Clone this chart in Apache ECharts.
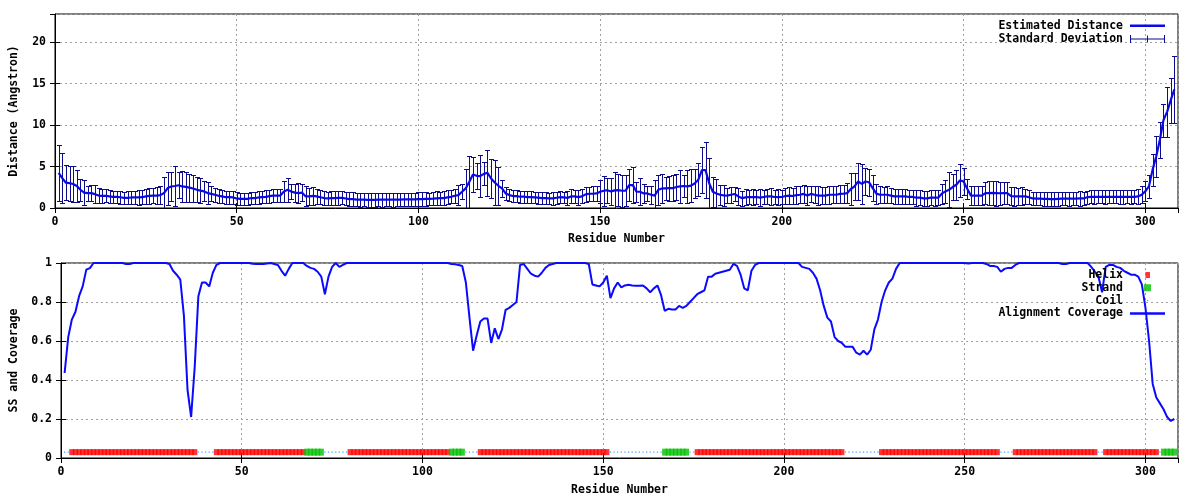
<!DOCTYPE html>
<html>
<head>
<meta charset="utf-8">
<script src="https://cdn.jsdelivr.net/npm/echarts@6/dist/echarts.min.js"></script>
<style>html,body{margin:0;padding:0;background:#fff}#c{width:1200px;height:500px}</style>
</head>
<body>
<div id="c"></div>
<script>
// ---------- DATA (residues numbered from firstResidue) ----------
const firstResidue = 1;
const residueMax = 309;
const distanceMax = 23.4;

const estimatedDistance = [
4.25,3.6,3.05,3.0,2.9,2.65,2.2,1.85,1.8,1.8,
1.67,1.5,1.47,1.47,1.4,1.35,1.35,1.3,1.23,1.23,
1.27,1.27,1.27,1.3,1.4,1.47,1.5,1.5,1.55,1.8,
2.4,2.6,2.65,2.75,2.6,2.55,2.45,2.35,2.2,2.1,
2.0,1.8,1.7,1.6,1.47,1.4,1.3,1.3,1.27,1.15,
1.1,1.1,1.1,1.2,1.2,1.27,1.3,1.35,1.43,1.5,
1.5,1.5,2.0,2.2,2.0,1.85,1.8,1.85,1.4,1.4,
1.47,1.4,1.3,1.2,1.15,1.2,1.2,1.23,1.23,1.15,
1.07,1.07,1.0,1.0,1.0,0.98,0.98,0.98,1.0,1.0,
1.0,1.0,1.0,1.02,1.02,1.05,1.05,1.05,1.05,1.08,
1.08,1.1,1.1,1.12,1.16,1.18,1.2,1.28,1.35,1.48,
1.56,1.96,2.36,3.16,4.04,3.88,3.84,4.12,4.24,3.56,
3.08,2.68,2.36,1.76,1.56,1.44,1.44,1.36,1.36,1.32,
1.32,1.28,1.24,1.2,1.2,1.16,1.16,1.24,1.32,1.28,
1.22,1.4,1.4,1.32,1.4,1.64,1.72,1.72,1.76,1.96,
2.08,2.15,2.0,2.12,2.15,2.08,2.1,2.76,2.76,1.96,
1.96,1.76,1.76,1.6,1.5,2.2,2.36,2.36,2.4,2.4,
2.53,2.6,2.65,2.6,2.7,2.96,3.4,4.56,4.56,3.0,
1.96,1.76,1.6,1.53,1.5,1.6,1.69,1.4,1.2,1.29,
1.33,1.3,1.33,1.25,1.33,1.4,1.4,1.33,1.3,1.33,
1.45,1.5,1.45,1.55,1.6,1.7,1.5,1.7,1.6,1.5,
1.5,1.5,1.6,1.6,1.6,1.7,1.73,1.8,2.29,2.6,
3.2,2.9,3.2,3.1,2.4,1.73,1.6,1.6,1.6,1.5,
1.4,1.4,1.4,1.4,1.33,1.33,1.25,1.25,1.16,1.16,
1.25,1.25,1.25,1.73,2.0,2.2,2.53,2.8,3.33,3.2,
2.33,1.5,1.5,1.5,1.5,1.8,1.8,1.82,1.8,1.78,
1.8,1.8,1.45,1.4,1.4,1.42,1.4,1.3,1.15,1.12,
1.12,1.1,1.1,1.08,1.08,1.1,1.12,1.12,1.12,1.12,
1.12,1.15,1.15,1.3,1.35,1.35,1.35,1.35,1.35,1.35,
1.35,1.35,1.35,1.33,1.35,1.35,1.35,1.4,1.6,2.0,
2.6,4.6,6.2,8.2,10.6,11.6,13.0,14.3
];

const standardDeviation = [
3.4,3.0,2.1,2.1,2.2,1.9,1.3,1.5,0.9,0.95,
1.05,0.86,0.85,0.8,0.8,0.75,0.75,0.8,0.75,0.8,
0.8,0.8,0.85,0.85,0.9,0.95,0.95,1.0,1.1,1.9,
2.0,1.8,2.4,1.6,1.9,1.8,1.7,1.6,1.5,1.5,
1.2,1.3,0.9,0.85,0.85,0.8,0.8,0.8,0.75,0.75,
0.7,0.75,0.75,0.7,0.7,0.75,0.75,0.8,0.8,0.75,
0.75,0.8,1.3,1.45,0.95,1.1,1.2,1.05,1.2,1.0,
1.1,0.95,0.85,0.8,0.8,0.8,0.85,0.85,0.8,0.8,
0.8,0.85,0.8,0.85,0.8,0.8,0.85,0.8,0.8,0.85,
0.8,0.8,0.85,0.8,0.8,0.75,0.8,0.8,0.75,0.8,
0.8,0.8,0.75,0.8,0.85,0.8,0.85,0.85,0.8,0.85,
1.2,0.9,2.4,3.1,2.1,1.6,2.5,1.4,2.8,2.3,
2.7,2.3,1.0,0.8,0.7,0.7,0.75,0.7,0.7,0.7,
0.75,0.7,0.7,0.75,0.7,0.7,0.75,0.7,0.75,0.7,
0.8,0.85,0.8,0.9,0.85,0.9,0.85,0.9,0.9,1.4,
1.8,1.5,1.6,2.2,1.9,1.96,1.9,1.9,2.2,1.2,
1.6,1.1,0.9,1.1,1.9,1.8,1.7,1.4,1.5,1.6,
1.6,2.0,1.3,2.0,2.0,1.8,2.0,2.8,3.4,3.0,
1.8,1.7,1.2,1.3,0.9,0.95,0.9,1.0,0.9,0.95,
0.9,0.95,0.9,1.0,0.9,0.95,1.0,0.9,0.95,0.9,
1.0,1.05,1.0,1.1,1.0,1.05,1.1,1.0,1.05,1.1,
1.0,1.05,1.1,1.0,1.05,1.1,1.1,1.2,1.9,1.6,
2.2,2.4,1.6,1.6,1.6,1.2,1.0,0.95,1.0,0.95,
0.9,0.95,0.9,0.95,0.9,0.9,0.95,0.9,0.9,0.95,
0.9,0.95,0.9,1.2,1.4,2.1,1.6,1.8,2.0,1.6,
1.2,1.1,1.1,1.1,1.1,1.3,1.4,1.45,1.5,1.4,
1.3,1.3,1.1,1.1,1.05,1.1,0.9,0.85,0.8,0.8,
0.8,0.85,0.8,0.8,0.8,0.85,0.8,0.8,0.85,0.8,
0.8,0.85,0.8,0.8,0.8,0.85,0.8,0.8,0.85,0.8,
0.8,0.8,0.85,0.8,0.8,0.85,0.8,0.9,1.0,1.2,
1.4,1.9,2.5,2.2,2.0,3.0,2.7,4.0
];

const alignmentCoverage = [
0.436,0.62,0.71,0.75,0.83,0.88,0.966,0.974,1,1,
1,1,1,1,1,1,1,0.995,0.995,1,
1,1,1,1,1,1,1,1,1,0.995,
0.96,0.94,0.915,0.73,0.35,0.21,0.47,0.83,0.9,0.9,
0.88,0.95,0.99,1,1,1,1,1,1,1,
1,1,0.996,0.995,0.995,0.995,0.998,1,0.995,0.99,
0.96,0.935,0.97,1,1,1,1,0.985,0.975,0.97,
0.955,0.93,0.84,0.93,0.98,1,0.98,0.99,1,1,
1,1,1,1,1,1,1,1,1,1,
1,1,1,1,1,1,1,1,1,1,
1,1,1,1,1,1,1,0.995,0.993,0.99,
0.985,0.9,0.72,0.55,0.63,0.7,0.715,0.715,0.59,0.665,
0.61,0.66,0.76,0.77,0.785,0.8,0.99,0.995,0.97,0.945,
0.935,0.93,0.95,0.975,0.99,0.995,1,1,1,1,
1,1,1,1,1,0.995,0.89,0.885,0.88,0.9,
0.935,0.82,0.87,0.9,0.875,0.885,0.888,0.885,0.883,0.883,
0.885,0.87,0.85,0.87,0.885,0.835,0.755,0.765,0.762,0.762,
0.78,0.77,0.78,0.8,0.82,0.84,0.85,0.86,0.93,0.93,
0.945,0.95,0.955,0.96,0.965,0.995,0.985,0.94,0.87,0.86,
0.96,0.99,1,1,1,1,1,1,1,1,
1,1,1,1,0.98,0.975,0.97,0.95,0.92,0.86,
0.78,0.72,0.7,0.62,0.6,0.59,0.57,0.57,0.57,0.54,
0.53,0.55,0.53,0.555,0.66,0.71,0.8,0.86,0.9,0.92,
0.97,1,1,1,1,1,1,1,1,1,
1,1,1,1,1,1,1,1,1,1,
0.998,1,1,1,1,0.995,0.985,0.985,0.98,0.955,
0.97,0.975,0.975,0.99,1,1,1,1,1,1,
1,1,1,1,1,1,0.995,0.995,1,1,
1,1,1,1,0.98,0.955,0.93,0.85,0.98,0.99,
0.99,0.98,0.975,0.96,0.95,0.94,0.94,0.93,0.89,0.77,
0.6,0.38,0.31,0.28,0.25,0.21,0.19,0.2
];

// secondary structure segments: [first residue, last residue, type]
const ssSegments = [
[1,2,'C'],[3,37,'H'],[38,42,'C'],[43,67,'H'],[68,72,'E'],[73,79,'C'],
[80,107,'H'],[108,111,'E'],[112,115,'C'],[116,151,'H'],[152,166,'C'],
[167,173,'E'],[174,175,'C'],[176,216,'H'],[217,226,'C'],[227,259,'H'],
[260,263,'C'],[264,286,'H'],[287,288,'C'],[289,303,'H'],[304,304,'C'],[305,308,'E']
];
const ssTrackValue = 0.03;

const xTickStep = 50;
const distTickStep = 5;
const covTickStep = 0.2;

// ---------- BUILD ----------
const distPairs = estimatedDistance.map((v,i)=>[i+firstResidue, v]);
const errTriples = estimatedDistance.map((v,i)=>[i+firstResidue, v, standardDeviation[i]]);
const covPairs = alignmentCoverage.map((v,i)=>[i+firstResidue, v]);
const helixData=[], strandData=[], coilData=[];
ssSegments.forEach(([a,b,t])=>{
  for(let r=a;r<=b;r++){
    const p=[r, ssTrackValue];
    if(t==='H') helixData.push(p); else if(t==='E') strandData.push(p); else coilData.push(p);
  }
});

const mono = '"DejaVu Sans Mono","Liberation Mono",monospace';
const fs = 11.5;
const txt = {fontFamily:mono, fontWeight:'bold', fontSize:fs, color:'#000'};
const gridLine = {show:true, lineStyle:{color:'#a0a0a0', type:[2,3], width:1}};

const lineColor = '#0a0ae6';
const errColor = '#0c0c8c';
const covColor = '#0a0aff';
const helixColor = '#ff0000';
const strandColor = '#00c000';
const coilColor = '#2090ff';

function mainX(gi, name, gap){
  return {type:'value', gridIndex:gi, min:0, max:residueMax, interval:xTickStep, position:'bottom',
    axisLine:{show:true, lineStyle:{color:'#000', width:1}},
    axisTick:{show:true, inside:true, length:5, lineStyle:{color:'#000'}},
    axisLabel:Object.assign({margin:8, showMaxLabel:false}, txt),
    splitLine:gridLine, name:name, nameLocation:'middle', nameGap:gap, nameTextStyle:txt};
}
function mirrorX(gi){
  return {type:'value', gridIndex:gi, min:0, max:residueMax, interval:xTickStep, position:'top',
    axisLine:{show:false}, axisTick:{show:true, inside:true, length:5, lineStyle:{color:'#000'}},
    axisLabel:{show:false}, splitLine:{show:false}};
}
function mainY(gi, max, step, name, gap, showMax){
  return {type:'value', gridIndex:gi, min:0, max:max, interval:step, position:'left',
    axisLine:{show:true, lineStyle:{color:'#000', width:1}},
    axisTick:{show:true, inside:true, length:5, lineStyle:{color:'#000'}},
    axisLabel:Object.assign({margin:9, showMaxLabel:showMax}, txt),
    splitLine:gridLine, name:name, nameLocation:'middle', nameGap:gap, nameTextStyle:txt};
}
function mirrorY(gi, max, step){
  return {type:'value', gridIndex:gi, min:0, max:max, interval:step, position:'right',
    axisLine:{show:false}, axisTick:{show:true, inside:true, length:5, lineStyle:{color:'#000'}},
    axisLabel:{show:false}, splitLine:{show:false}};
}

const eps = 'M0,0h0.01v0.01h-0.01z M35,8.99h0.01v0.01h-0.01z ';
const icons = {
  err: 'path://M0,4h35v1h-35z M0,0.5h1v8h-1z M34,0.5h1v8h-1z M17,1h1v7h-1z',
  helix: 'path://' + eps + 'M15.5,1.5h4.5v6h-4.5z',
  strand: 'path://' + eps + 'M14,1h7v7h-7z',
  coil: 'path://' + eps + 'M17,4h1.2v1.2h-1.2z'
};
function legendAt(name, icon, w, h, cy){
  return {show:true, data:[{name:name, icon:icon}], orient:'vertical', align:'right',
    right:35, top:cy-6, padding:0, itemWidth:w, itemHeight:h, selectedMode:false,
    textStyle:Object.assign({lineHeight:12, padding:[0,2,0,0]}, txt)};
}

const option = {
  animation:false,
  backgroundColor:'#fff',
  grid:[
    {left:52, right:22, top:14, height:194, show:true, borderColor:'#000', borderWidth:1, backgroundColor:'transparent'},
    {left:58, right:22, top:263, height:195, show:true, borderColor:'#000', borderWidth:1, backgroundColor:'transparent'}
  ],
  xAxis:[ mainX(0,'Residue Number',25), mirrorX(0), mainX(1,'Residue Number',26), mirrorX(1) ],
  yAxis:[ mainY(0,distanceMax,distTickStep,'Distance (Angstron)',35,false), mirrorY(0,distanceMax,distTickStep),
          mainY(1,1,covTickStep,'SS and Coverage',41,true), mirrorY(1,1,covTickStep) ],
  legend:[
    legendAt('Estimated Distance','rect',35,2.5,25.7),
    legendAt('Standard Deviation',icons.err,35,9,39),
    legendAt('Helix',icons.helix,35,9,275),
    legendAt('Strand',icons.strand,35,9,287.8),
    legendAt('Coil',icons.coil,35,9,300.6),
    legendAt('Alignment Coverage','rect',35,2.5,313.4)
  ],
  series:[
    {name:'Standard Deviation', type:'custom', xAxisIndex:0, yAxisIndex:0, data:errTriples, z:2, clip:true,
     encode:{x:0, y:1}, itemStyle:{color:errColor}, color:errColor,
     renderItem:function(params, api){
       const x=api.value(0), y=api.value(1), s=api.value(2);
       const t=api.coord([x, y+s]), b=api.coord([x, y-s]);
       const px=Math.round(t[0])+0.5, ty=Math.round(t[1])+0.5, by=Math.round(b[1])+0.5;
       const hw=2.5;
       const st={stroke:errColor, lineWidth:1, fill:null};
       return {type:'group', children:[
         {type:'line', shape:{x1:px,y1:ty,x2:px,y2:by}, style:st},
         {type:'line', shape:{x1:px-hw,y1:ty,x2:px+hw,y2:ty}, style:st},
         {type:'line', shape:{x1:px-hw,y1:by,x2:px+hw,y2:by}, style:st}
       ]};
     }},
    {name:'Estimated Distance', type:'line', xAxisIndex:0, yAxisIndex:0, data:distPairs, z:3,
     showSymbol:false, symbol:'none', color:lineColor, lineStyle:{color:lineColor, width:2.2}},
    {name:'Coil', type:'scatter', xAxisIndex:2, yAxisIndex:2, data:coilData, z:2,
     symbol:'rect', symbolSize:[1.3,1.3], itemStyle:{color:coilColor}, color:coilColor},
    {name:'Helix', type:'scatter', xAxisIndex:2, yAxisIndex:2, data:helixData, z:2,
     symbol:'rect', symbolSize:[5.2,6], itemStyle:{color:helixColor}, color:helixColor},
    {name:'Strand', type:'scatter', xAxisIndex:2, yAxisIndex:2, data:strandData, z:2,
     symbol:'rect', symbolSize:[5.2,7], itemStyle:{color:strandColor}, color:strandColor},
    {name:'Alignment Coverage', type:'line', xAxisIndex:2, yAxisIndex:2, data:covPairs, z:3,
     showSymbol:false, symbol:'none', color:covColor, lineStyle:{color:covColor, width:2}}
  ]
};
const chart = echarts.init(document.getElementById('c'), null, {renderer:'canvas'});
chart.setOption(option);
</script>
</body>
</html>
